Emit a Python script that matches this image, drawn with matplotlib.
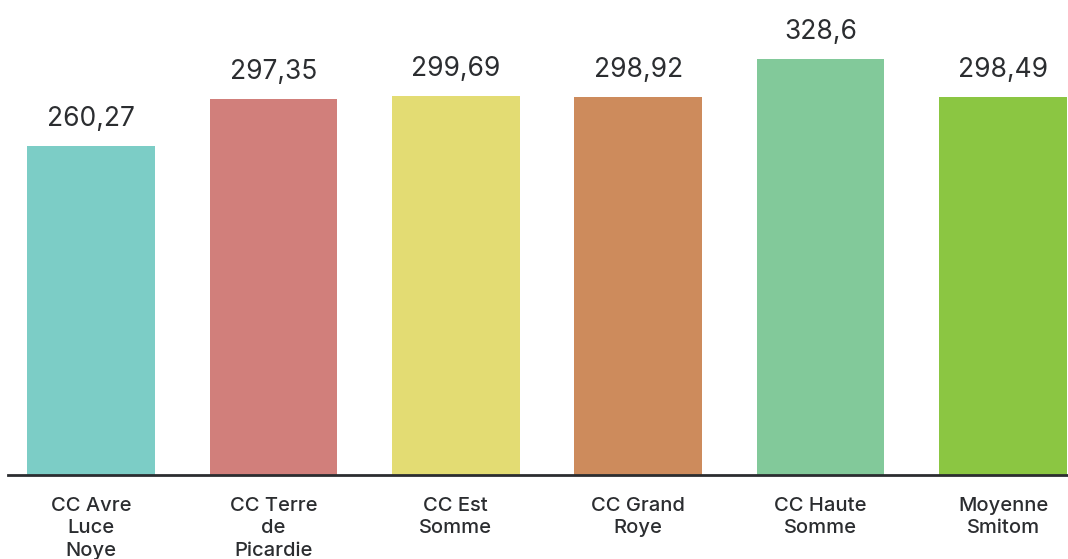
import matplotlib.pyplot as plt

# Data
categories = ['CC Avre\nLuce\nNoye', 'CC Terre\nde\nPicardie', 'CC Est\nSomme',
              'CC Grand\nRoye', 'CC Haute\nSomme', 'Moyenne\nSmitom']
values = [260.27, 297.35, 299.69, 298.92, 328.6, 298.49]
labels = ['260,27', '297,35', '299,69', '298,92', '328,6', '298,49']
colors = ['#7ccdc6', '#d17f7b', '#e3dc73', '#cd8b5c', '#82c99a', '#8bc642']

text_color = '#2b2d30'

fig = plt.figure(figsize=(10.68, 5.59), dpi=100)
ax = fig.add_axes([8 / 1068, 84 / 559, 1060 / 1068, 475 / 559])

x = range(len(categories))
bars = ax.bar(x, values, width=0.70, color=colors)

# value labels above each bar
for xi, v, lab in zip(x, values, labels):
    ax.annotate(lab, (xi, v), xytext=(0, 19.5), textcoords='offset points',
                ha='center', va='center', fontsize=19, color=text_color,
                family='Inter')

# category labels under the axis line
for xi, cat in zip(x, categories):
    ax.annotate(cat, (xi, 0), xytext=(0, -15.5), textcoords='offset points',
                ha='center', va='top', fontsize=14.5, color=text_color,
                family='Inter', fontweight='medium', linespacing=1.34)

ax.set_xlim(-0.455, 5.356)
ax.set_ylim(0, 375.5)
ax.set_xticks([])
ax.set_yticks([])
for side in ['top', 'right', 'left']:
    ax.spines[side].set_visible(False)
ax.spines['bottom'].set_color(text_color)
ax.spines['bottom'].set_linewidth(2)

fig.savefig('out.png', dpi=100)
